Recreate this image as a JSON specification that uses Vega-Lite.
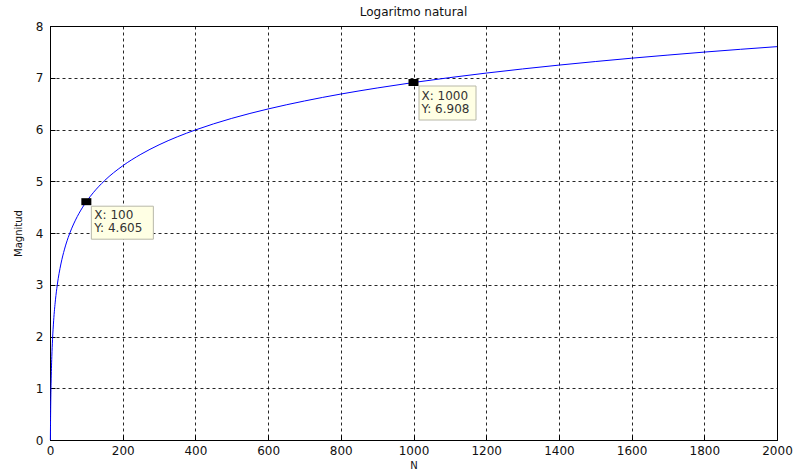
{
  "$schema": "https://vega.github.io/schema/vega-lite/v6.json",
  "width": 727,
  "height": 414,
  "autosize": "none",
  "padding": {"left": 50, "top": 26, "right": 17, "bottom": 31},
  "background": "white",
  "title": {"text": "Logaritmo natural", "fontSize": 12, "fontWeight": "normal", "font": "DejaVu Sans", "color": "#111", "offset": 1},
  "config": {
    "view": {"stroke": "black", "strokeWidth": 1},
    "axis": {
      "labelFont": "DejaVu Sans", "labelFontSize": 12, "labelColor": "#111",
      "titleFont": "DejaVu Sans", "titleFontSize": 10, "titleFontWeight": "normal", "titleColor": "#111",
      "domainColor": "black", "tickColor": "black", "tickSize": -5,
      "gridColor": "black", "gridDash": [3, 3], "gridOpacity": 0.85, "gridWidth": 1
    }
  },
  "datasets": {
    "curve": [
      {"N": 1, "val": 0}, {"N": 2, "val": 0.693}, {"N": 3, "val": 1.099}, {"N": 4, "val": 1.386},
      {"N": 5, "val": 1.609}, {"N": 7, "val": 1.946}, {"N": 10, "val": 2.303}, {"N": 15, "val": 2.708},
      {"N": 20, "val": 2.996}, {"N": 30, "val": 3.401}, {"N": 40, "val": 3.689}, {"N": 50, "val": 3.912},
      {"N": 60, "val": 4.094}, {"N": 70, "val": 4.248}, {"N": 80, "val": 4.382}, {"N": 100, "val": 4.605},
      {"N": 120, "val": 4.787}, {"N": 150, "val": 5.011}, {"N": 200, "val": 5.298}, {"N": 250, "val": 5.521},
      {"N": 300, "val": 5.704}, {"N": 350, "val": 5.858}, {"N": 400, "val": 5.991}, {"N": 500, "val": 6.215},
      {"N": 600, "val": 6.397}, {"N": 700, "val": 6.551}, {"N": 800, "val": 6.685}, {"N": 900, "val": 6.802},
      {"N": 1000, "val": 6.908}, {"N": 1100, "val": 7.003}, {"N": 1200, "val": 7.090}, {"N": 1300, "val": 7.170},
      {"N": 1400, "val": 7.244}, {"N": 1500, "val": 7.313}, {"N": 1600, "val": 7.378}, {"N": 1700, "val": 7.438},
      {"N": 1800, "val": 7.496}, {"N": 1900, "val": 7.550}, {"N": 2000, "val": 7.601}
    ],
    "tips": [
      {"N": 100, "val": 4.605, "label": "X: 100\nY: 4.605"},
      {"N": 1000, "val": 6.908, "label": "X: 1000\nY: 6.908"}
    ]
  },
  "layer": [
    {
      "data": {"name": "curve"},
      "mark": {"type": "line", "color": "#0000ff", "strokeWidth": 1, "interpolate": "monotone"},
      "encoding": {
        "x": {"field": "N", "type": "quantitative", "scale": {"domain": [0, 2000], "nice": false},
              "axis": {"title": "N", "orient": "bottom", "format": "d", "values": [0,200,400,600,800,1000,1200,1400,1600,1800,2000], "labelPadding": 10, "titlePadding": 4, "labelFlush": false}},
        "y": {"field": "val", "type": "quantitative", "scale": {"domain": [0, 8], "nice": false},
              "axis": {"title": "Magnitud", "orient": "left", "format": "d", "values": [0,1,2,3,4,5,6,7,8], "labelPadding": 12, "titlePadding": 12, "labelFlush": false}}
      }
    },
    {
      "data": {"name": "tips"},
      "transform": [{"filter": "datum.N == 100"}],
      "mark": {"type": "rect", "width": 62, "height": 33, "xOffset": 36, "yOffset": 21, "fill": "#ffffe4", "stroke": "#b8b8a8", "strokeWidth": 1},
      "encoding": {"x": {"field": "N", "type": "quantitative"}, "y": {"field": "val", "type": "quantitative"}}
    },
    {
      "data": {"name": "tips"},
      "transform": [{"filter": "datum.N == 1000"}],
      "mark": {"type": "rect", "width": 57, "height": 34, "xOffset": 34, "yOffset": 20.5, "fill": "#ffffe4", "stroke": "#b8b8a8", "strokeWidth": 1},
      "encoding": {"x": {"field": "N", "type": "quantitative"}, "y": {"field": "val", "type": "quantitative"}}
    },
    {
      "data": {"name": "tips"},
      "mark": {"type": "rect", "width": 10, "height": 7, "fill": "black"},
      "encoding": {"x": {"field": "N", "type": "quantitative"}, "y": {"field": "val", "type": "quantitative"}}
    },
    {
      "data": {"name": "tips"},
      "mark": {"type": "text", "align": "left", "baseline": "top", "dx": 8, "dy": 8, "lineBreak": "\n", "lineHeight": 13, "font": "DejaVu Sans", "fontSize": 12, "color": "#333"},
      "encoding": {"x": {"field": "N", "type": "quantitative"}, "y": {"field": "val", "type": "quantitative"}, "text": {"field": "label"}}
    }
  ]
}
